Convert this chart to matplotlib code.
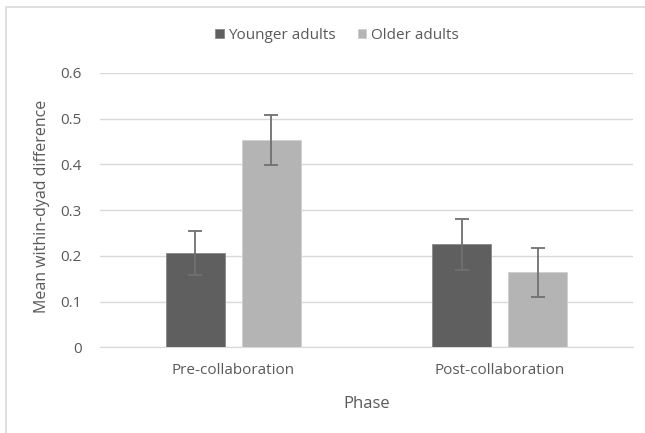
import numpy as np
import matplotlib.pyplot as plt
from matplotlib.patches import Rectangle

# Данные с графика
phases = ['Pre-collaboration', 'Post-collaboration']
groups = ['Younger adults', 'Older adults']
younger = [0.206, 0.225]
older = [0.454, 0.164]
younger_err = [0.048, 0.056]
older_err = [0.055, 0.054]
y_ticks = [0, 0.1, 0.2, 0.3, 0.4, 0.5, 0.6]

plt.rcParams['font.family'] = ['Open Sans', 'DejaVu Sans']
text_color = '#595959'

fig = plt.figure(figsize=(6.45, 4.33), dpi=100)
ax = fig.add_axes([100 / 645, 1 - 347.3 / 433, 533 / 645, 274.3 / 433])

# Рамка вокруг рисунка (видны только левый и верхний края)
fig.patches.append(Rectangle((6 / 645, -0.05), 1.0, 1 - 7 / 433 + 0.05, transform=fig.transFigure,
                             fill=False, edgecolor='#D9D9D9', linewidth=1.2))

x = np.arange(len(phases))
width = 0.221
offset = 0.143
err_style = dict(ecolor='#707070', elinewidth=1.3, capsize=5, capthick=1.3)

ax.bar(x - offset, younger, width, yerr=younger_err, color='#5F5F5F', edgecolor='#8A8A8A',
       linewidth=0.6, label=groups[0], error_kw=err_style, zorder=3)
ax.bar(x + offset, older, width, yerr=older_err, color='#B4B4B4', edgecolor='#CFCFCF',
       linewidth=0.6, label=groups[1], error_kw=err_style, zorder=3)

ax.set_xlim(-0.5, 1.5)
ax.set_ylim(0, 0.6)
ax.set_yticks(y_ticks)
ax.set_yticklabels([f'{t:g}' for t in y_ticks])
ax.set_xticks(x)
ax.set_xticklabels(phases)
ax.tick_params(length=0, labelsize=11, colors=text_color)
ax.tick_params(axis='y', pad=13)
ax.tick_params(axis='x', pad=11)

ax.grid(axis='y', color='#D9D9D9', linewidth=1, zorder=0)
for side in ['top', 'right', 'left']:
    ax.spines[side].set_visible(False)
ax.spines['bottom'].set_color('#D9D9D9')

ax.set_xlabel('Phase', fontsize=12, color=text_color, labelpad=13)
ax.set_ylabel('Mean within-dyad difference', fontsize=11.5, color=text_color)
ax.yaxis.set_label_coords(-50 / 533, 0.515)

ax.legend(loc='center', bbox_to_anchor=(0.4447, 1.1385), ncol=2, frameon=False, fontsize=11,
          labelcolor=text_color, handlelength=0.55, handleheight=0.55, handletextpad=0.3,
          columnspacing=1.45)

fig.savefig('out.png', dpi=100)
